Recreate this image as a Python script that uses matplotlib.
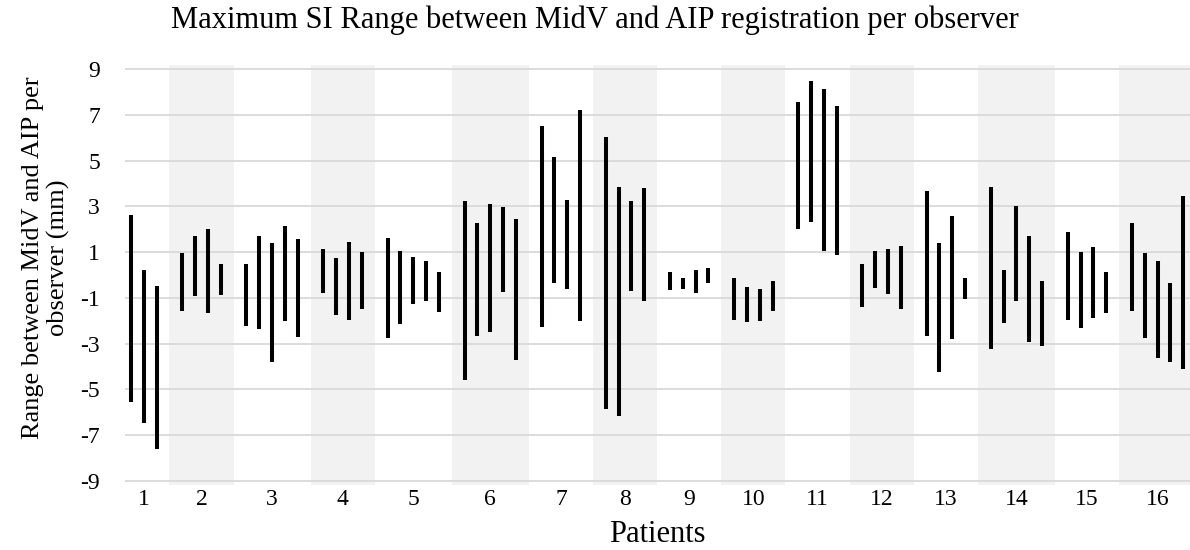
import numpy as np
import matplotlib
matplotlib.use("Agg")
import matplotlib.pyplot as plt

plt.rcParams['font.family'] = ['Liberation Serif', 'DejaVu Serif']
plt.rcParams['axes.unicode_minus'] = False

patients = [str(i) for i in range(1, 17)]

# per-observer upper / lower end of the SI range (mm), grouped by patient
highs = [
    [2.64, 0.23, -0.46],
    [0.96, 1.69, 1.99, 0.50],
    [0.49, 1.69, 1.42, 2.14, 1.56],
    [1.15, 0.75, 1.44, 1.02],
    [1.63, 1.04, 0.78, 0.61, 0.11],
    [3.23, 2.27, 3.10, 2.96, 2.45],
    [6.51, 5.16, 3.29, 7.19],
    [6.05, 3.85, 3.25, 3.79],
    [0.14, -0.11, 0.20, 0.32],
    [-0.14, -0.53, -0.60, -0.25],
    [7.54, 8.49, 8.11, 7.37],
    [0.46, 1.04, 1.15, 1.26],
    [3.67, 1.39, 2.59, -0.15],
    [3.83, 0.21, 3.01, 1.72, -0.25],
    [1.86, 1.02, 1.21, 0.15],
    [2.27, 0.94, 0.61, -0.36, 3.44],
]
lows = [
    [-5.57, -6.45, -7.61],
    [-1.58, -0.93, -1.66, -0.87],
    [-2.21, -2.34, -3.82, -1.99, -2.72],
    [-0.78, -1.73, -1.98, -1.47],
    [-2.74, -2.14, -1.26, -1.12, -1.60],
    [-4.59, -2.68, -2.49, -0.75, -3.71],
    [-2.28, -0.34, -0.62, -1.99],
    [-5.85, -6.15, -0.71, -1.15],
    [-0.66, -0.62, -0.78, -0.37],
    [-1.95, -2.07, -1.99, -1.58],
    [1.99, 2.33, 1.03, 0.89],
    [-1.41, -0.56, -0.85, -1.48],
    [-2.68, -4.23, -2.78, -1.04],
    [-3.22, -2.09, -1.13, -2.91, -3.09],
    [-1.95, -2.31, -1.87, -1.66],
    [-1.58, -2.77, -3.63, -3.80, -4.12],
]

fig = plt.figure(figsize=(11.9, 5.5), dpi=100)
ax = fig.add_axes([0.105, 0.118, 0.895, 0.764])

# one slot per observer, one empty slot between patients
pos = 0
centers = []
for i, (hi, lo) in enumerate(zip(highs, lows)):
    xs = np.arange(pos, pos + len(hi))
    ax.vlines(xs, lo, hi, color='black', linewidth=2.9, zorder=3)
    centers.append(xs.mean())
    if i % 2 == 1:
        ax.axvspan(xs[0] - 1, xs[-1] + 1, color='#f2f2f2', zorder=0, lw=0)
    pos += len(hi) + 1
last = pos - 2

ax.set_xlim(-0.47, last + 0.52)
ax.set_ylim(-9.18, 9.18)
ax.set_yticks(np.arange(-9, 10, 2))
for y in np.arange(-9, 10, 2):
    ax.axhline(y, color='#d9d9d9', linewidth=1.3, zorder=1)

ax.set_xticks(centers)
ax.set_xticklabels(patients)
for s in ax.spines.values():
    s.set_visible(False)
ax.tick_params(length=0, labelsize=17)
ax.tick_params(axis='x', pad=3)
ax.tick_params(axis='y', pad=18)

fig.text(0.5, 1 - 28 / 550,
         'Maximum SI Range between MidV and AIP registration per observer',
         fontsize=22, ha='center', va='baseline')
ax.set_xlabel('Patients', fontsize=22, labelpad=7)
fig.text(46 / 1190, 1 - 258 / 550, 'Range between MidV and AIP per\nobserver (mm)',
         fontsize=19, rotation=90, ha='center', va='center',
         multialignment='center')

fig.savefig('out.png', dpi=100)
